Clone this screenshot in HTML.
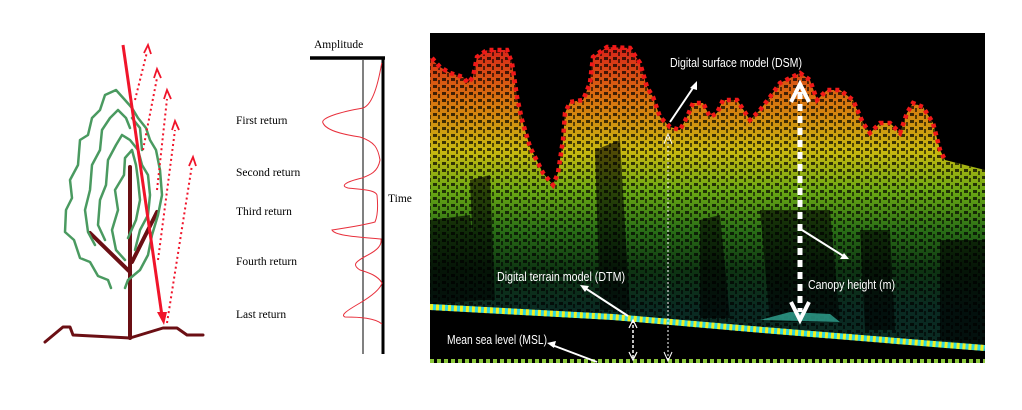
<!DOCTYPE html>
<html><head><meta charset="utf-8"><style>
html,body{margin:0;padding:0;background:#fff;width:1022px;height:410px;overflow:hidden}
svg{display:block}
.t{font-family:"Liberation Serif",serif;font-size:11.5px;fill:#000}
.w{font-family:"Liberation Sans",sans-serif;font-size:12.5px;fill:#fff}
</style></head><body>
<svg width="1022" height="410" viewBox="0 0 1022 410" xmlns="http://www.w3.org/2000/svg">
<defs>
<linearGradient id="g" gradientUnits="userSpaceOnUse" x1="0" y1="45" x2="0" y2="310">
<stop offset="0" stop-color="#d8201a"/>
<stop offset="0.2" stop-color="#d8700f"/>
<stop offset="0.4" stop-color="#c8b810"/>
<stop offset="0.55" stop-color="#6aa814"/>
<stop offset="0.7" stop-color="#2a6e16"/>
<stop offset="0.85" stop-color="#0e3412"/>
<stop offset="1" stop-color="#0a2a22"/>
</linearGradient>
<pattern id="p" width="9" height="7" patternUnits="userSpaceOnUse">
<rect x="1" y="1" width="4" height="3" fill="#000" opacity="0.7"/>
<rect x="6" y="3" width="2" height="4" fill="#000" opacity="0.6"/>
</pattern>
<clipPath id="cp"><rect x="430" y="33" width="555" height="330"/></clipPath>
</defs>

<!-- Left tree -->
<g fill="none" stroke-linecap="round" stroke-linejoin="round">
<polyline points="45,342 63,327 70,327 73,335 130,338 163,328 177,328 187,335 203,335" stroke="#6b0f14" stroke-width="3"/>
<line x1="130" y1="167" x2="130" y2="338" stroke="#6b0f14" stroke-width="4"/>
<line x1="90" y1="233" x2="130" y2="272" stroke="#6b0f14" stroke-width="4"/>
<line x1="157" y1="212" x2="132" y2="262" stroke="#6b0f14" stroke-width="4"/>
<g stroke="#4a9a60" stroke-width="2.5">
<path d="M111,288 L108,280 L98,276 L90,262 L80,258 L74,240 L65,232 L66,210 L72,198 L70,180 L78,165 L80,140 L88,135 L92,118 L100,110 L105,95 L116,90 L125,100 L132,108 L138,118 L146,128 L150,140 L156,150 L160,170 L162,195 L158,215 L152,235 L148,255 L140,270 L128,280 L125,288"/>
<path d="M95,245 L88,232 L85,210 L90,190 L92,165 L100,150 L102,130 L110,118 L118,110 L126,118 L130,128"/>
<path d="M105,240 L98,225 L100,200 L106,185 L108,160 L116,145 L122,135 L130,140 L138,150 L142,165 L148,175 L150,195 L148,215 L140,230 L135,250"/>
<path d="M125,260 L116,250 L112,230 L118,210 L115,190 L124,175 L125,158 L132,150 L136,165 L138,180 L140,200 L136,220 L128,238"/>
<path d="M132,118 L140,128 L142,150"/>
</g>
</g>
<line x1="123" y1="45" x2="162" y2="316" stroke="#f0142a" stroke-width="3"/>
<polygon points="157,312 167,312 164,325" fill="#f0142a"/>
<g stroke="#f0142a" stroke-width="2" stroke-dasharray="2,3" fill="none">
<line x1="135" y1="100" x2="147" y2="52"/>
<line x1="143" y1="150" x2="157" y2="78"/>
<line x1="157" y1="190" x2="167" y2="99"/>
<line x1="158" y1="260" x2="175" y2="130"/>
<line x1="167" y1="323" x2="192" y2="165"/>
</g>
<g fill="none" stroke="#f0142a" stroke-width="1.8">
<polyline points="144,53 148,45 151,54"/>
<polyline points="154,78 157,69 161,78"/>
<polyline points="164,99 167,90 171,99"/>
<polyline points="172,130 175,121 179,130"/>
<polyline points="189,166 193,157 196,166"/>
</g>

<!-- Waveform -->
<text class="t" x="314" y="48">Amplitude</text>
<line x1="310" y1="58" x2="385" y2="58" stroke="#000" stroke-width="3.5"/>
<line x1="383" y1="58" x2="383" y2="354" stroke="#000" stroke-width="3"/>
<line x1="363" y1="60" x2="363" y2="354" stroke="#000" stroke-width="1"/>
<text class="t" x="236" y="124">First return</text>
<text class="t" x="236" y="176">Second return</text>
<text class="t" x="236" y="215">Third  return</text>
<text class="t" x="236" y="265">Fourth  return</text>
<text class="t" x="236" y="318">Last  return</text>
<text class="t" x="388" y="202">Time</text>
<path d="M381.7,63 C378,85 372,105 363,108 C340,112 320,118 323,123 C326,130 340,134 360,137 C375,142 378,148 380,160 C378,172 370,175 362,178 C345,182 340,186 348,188 C365,190 375,190 377,195 C378,205 378,215 375,222 C365,225 345,228 332,230 C335,236 360,237 381,239 C382,245 378,250 366,256 C355,262 352,265 360,270 C370,273 378,276 382,283 C380,290 370,297 360,303 C348,310 340,315 345,317 C360,317 375,318 382,324" fill="none" stroke="#e8303c" stroke-width="1"/>

<!-- Right lidar panel -->
<rect x="430" y="33" width="555" height="330" fill="#000"/>
<g clip-path="url(#cp)">
<path d="M430,58 L440,67 L450,73 L463,77 L468,83 L473,77 L477,57 L487,50 L507,50 L512,63 L517,97 L522,120 L530,147 L543,173 L553,185 L558,173 L563,140 L565,113 L570,102 L583,100 L590,83 L593,57 L607,47 L630,48 L640,63 L647,87 L653,97 L660,117 L670,127 L680,130 L687,117 L693,103 L703,103 L710,117 L717,113 L723,100 L737,100 L750,120 L760,110 L770,97 L780,83 L800,73 L810,80 L817,100 L827,90 L840,90 L853,100 L863,123 L870,133 L880,123 L890,123 L900,133 L907,113 L913,103 L923,107 L933,123 L940,150 L945,160 L985,170 L985,345 L430,308 Z" fill="url(#g)"/>
<path d="M430,58 L440,67 L450,73 L463,77 L468,83 L473,77 L477,57 L487,50 L507,50 L512,63 L517,97 L522,120 L530,147 L543,173 L553,185 L558,173 L563,140 L565,113 L570,102 L583,100 L590,83 L593,57 L607,47 L630,48 L640,63 L647,87 L653,97 L660,117 L670,127 L680,130 L687,117 L693,103 L703,103 L710,117 L717,113 L723,100 L737,100 L750,120 L760,110 L770,97 L780,83 L800,73 L810,80 L817,100 L827,90 L840,90 L853,100 L863,123 L870,133 L880,123 L890,123 L900,133 L907,113 L913,103 L923,107 L933,123 L940,150 L945,160 L985,170 L985,345 L430,308 Z" fill="url(#p)"/>
<g fill="#000" opacity="0.6">
<path d="M430,220 L470,215 L480,300 L430,305 Z"/>
<path d="M470,180 L490,175 L495,300 L475,300 Z"/>
<path d="M595,150 L620,140 L630,310 L600,310 Z"/>
<path d="M700,220 L720,215 L730,318 L700,318 Z"/>
<path d="M760,210 L830,210 L840,322 L770,322 Z"/>
<path d="M860,230 L890,230 L895,330 L865,330 Z"/>
<path d="M940,240 L985,240 L985,345 L940,340 Z"/>
</g>
<path d="M760,320 L790,312 L830,314 L840,322 Z" fill="#40d8c0" opacity="0.6"/>
<polyline points="432,58 440,67 450,73 463,77 468,83 473,77 477,57 487,50 507,50 512,63 517,97 522,120 530,147 543,173 553,185 558,173 563,140 565,113 570,102 583,100 590,83 593,57 607,47 630,48 640,63 647,87 653,97 660,117 670,127 680,130 687,117 693,103 703,103 710,117 717,113 723,100 737,100 750,120 760,110 770,97 780,83 800,73 810,80 817,100 827,90 840,90 853,100 863,123 870,133 880,123 890,123 900,133 907,113 913,103 923,107 933,123 940,150 945,160" fill="none" stroke="#f01818" stroke-width="4.5" stroke-dasharray="4,4"/>
<polyline points="430,307 613,317 763,330 946,345 985,348" fill="none" stroke="#30d8e0" stroke-width="6"/>
<polyline points="430,307 613,317 763,330 946,345 985,348" fill="none" stroke="#f0f020" stroke-width="6" stroke-dasharray="3,3"/>
<line x1="430" y1="361" x2="985" y2="361" stroke="#8cc83c" stroke-width="4" stroke-dasharray="4,3"/>
<g stroke="#fff" fill="none">
<line x1="670" y1="122" x2="695" y2="85" stroke-width="2"/>
<line x1="628" y1="316" x2="585" y2="288" stroke-width="2"/>
<line x1="802" y1="230" x2="845" y2="257" stroke-width="2"/>
<line x1="597" y1="362" x2="552" y2="345" stroke-width="2"/>
<line x1="800" y1="92" x2="800" y2="312" stroke-width="5" stroke-dasharray="7,5"/>
<polyline points="791,102 800,84 809,102" stroke-width="4"/>
<polyline points="791,302 800,320 809,302" stroke-width="4"/>
<line x1="668" y1="138" x2="668" y2="360" stroke-width="1" stroke-dasharray="2,2"/>
<polyline points="664,144 668,134 672,144" stroke-width="1"/>
<polyline points="664,352 668,361 672,352" stroke-width="1"/>
<line x1="633" y1="320" x2="633" y2="360" stroke-width="1.5" stroke-dasharray="3,2"/>
<polyline points="629,328 633,320 637,328" stroke-width="1.2"/>
<polyline points="629,352 633,360 637,352" stroke-width="1.2"/>
</g>
<g fill="#fff">
<polygon points="697,81 690,88 697,90"/>
<polygon points="580,285 589,286 585,292"/>
<polygon points="849,259 840,259 844,253"/>
<polygon points="547,343 556,341 554,348"/>
</g>
<text class="w" x="670" y="67" textLength="132" lengthAdjust="spacingAndGlyphs">Digital surface model (DSM)</text>
<text class="w" x="497" y="281" textLength="128" lengthAdjust="spacingAndGlyphs">Digital terrain model (DTM)</text>
<text class="w" x="808" y="289" textLength="87" lengthAdjust="spacingAndGlyphs">Canopy height (m)</text>
<text class="w" x="447" y="344" textLength="100" lengthAdjust="spacingAndGlyphs">Mean sea level (MSL)</text>
</g>
</svg>
</body></html>
